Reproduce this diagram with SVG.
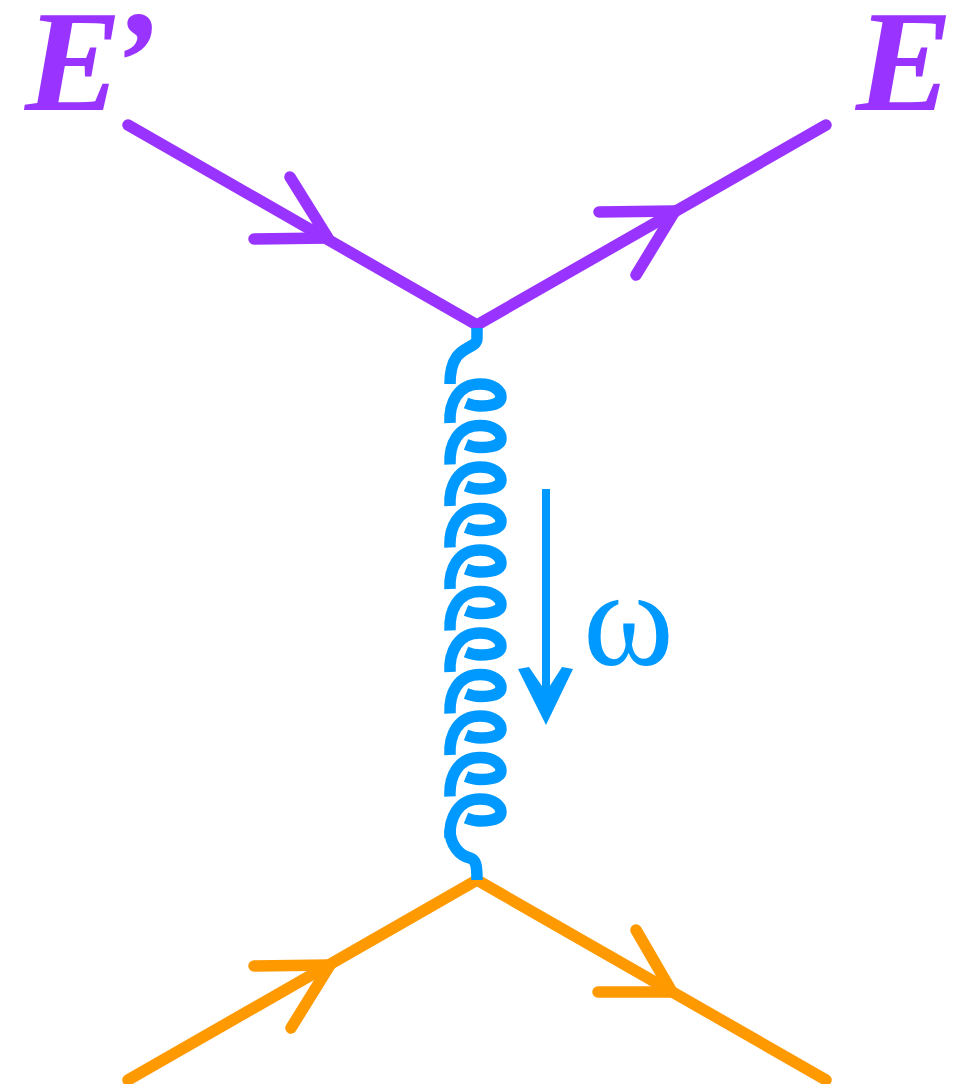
<svg xmlns="http://www.w3.org/2000/svg" width="956" height="1084" viewBox="0 0 956 1084">
<style>
.l{fill:none;stroke-width:11.5;stroke-linecap:round;stroke-linejoin:round}
.p{stroke:#9933ff}.o{stroke:#ff9900}.b{stroke:#0099ff}
.g{stroke-width:11.5;stroke-linecap:butt}
.t{font-family:"Liberation Serif",serif;font-weight:bold;font-style:italic;font-size:145px;fill:#9933ff}
</style>
<defs>
<path id="coil" class="l b g" d="M450 423C449 403 458 384 480 384C494 384 501 391 501 397C501 404 490 406 480 406C474 406 471 405 466 403"/>
</defs>
<g id="connectors">
<path class="l p" d="M128 125L477 325L826 125"/>
<path class="l p" d="M290 177L328 238L254 239M599 212L675 211L636 275"/>
<path class="l o" d="M128 1080L477 880L826 1080"/>
<path class="l o" d="M254 966L330 965L291 1028M636 930L672 992L598 992"/>
<g id="gluon">
<path class="l b g" d="M477 328V338C477 352 450 342 450 384"/>
<use href="#coil"/>
<use href="#coil" y="41.5"/>
<use href="#coil" y="83"/>
<use href="#coil" y="124.5"/>
<use href="#coil" y="166"/>
<use href="#coil" y="207.5"/>
<use href="#coil" y="249"/>
<use href="#coil" y="290.5"/>
<use href="#coil" y="332"/>
<use href="#coil" y="373.5"/>
<use href="#coil" y="415"/>
<path class="l b g" d="M450 830C450 845 460 856 470 858C476 860 477 865 477 880"/>
</g>
<path class="b" style="fill:none;stroke-width:8" d="M546 489V700"/>
<path id="arrowhead" d="M518 669L529 667L546 692L562 667L573 669L546 725Z" fill="#0099ff"/>
</g>
<g id="label-e-prime"><text class="t" x="25" y="110">E<tspan dx="-13">’</tspan></text></g>
<g id="label-e"><text class="t" x="856" y="110">E</text></g>
<g id="label-omega"><text x="583" y="665" font-family="Liberation Serif,serif" font-size="138" fill="#0099ff">ω</text></g>
</svg>
